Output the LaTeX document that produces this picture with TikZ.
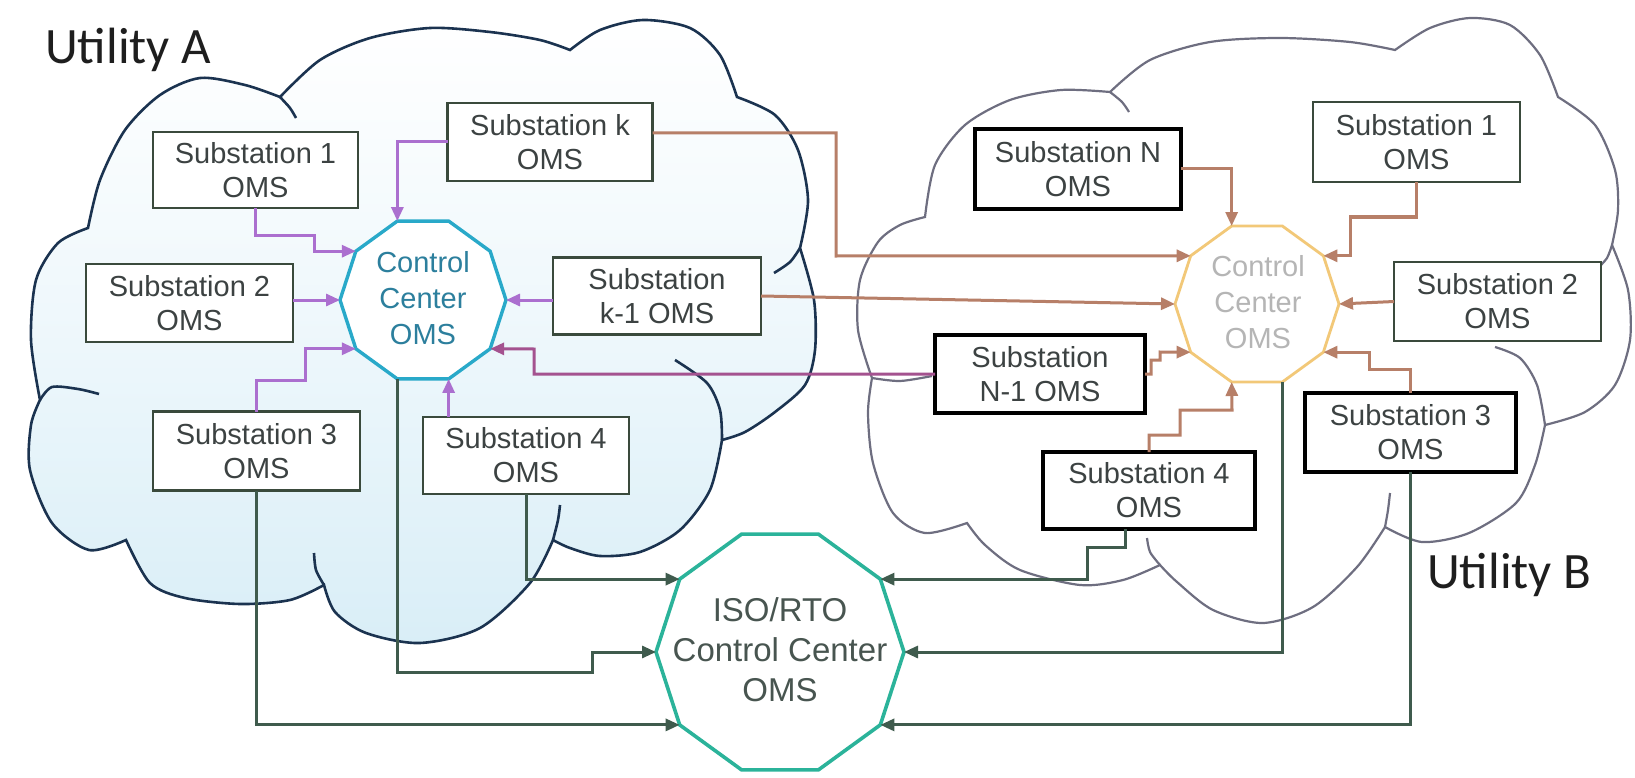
\documentclass[tikz,border=0pt]{standalone}
\usepackage{fontspec}
\setmainfont{Liberation Sans}
\newfontfamily\utilfont{Carlito}
\usetikzlibrary{arrows.meta,shapes.geometric,calc}
\pgfdeclarelayer{bg}
\pgfsetlayers{bg,main}
\definecolor{navyc}{HTML}{1B3350}
\definecolor{grayc}{HTML}{6E6E80}
\definecolor{boxc}{HTML}{3A4A3C}
\definecolor{txtc}{HTML}{3C4242}
\definecolor{purpc}{HTML}{AB6FCF}
\definecolor{magc}{HTML}{A4528F}
\definecolor{brownc}{HTML}{B77F68}
\definecolor{isoc}{HTML}{3F5B4D}
\definecolor{lccc}{HTML}{29A9C9}
\definecolor{lcctxt}{HTML}{2C7F9D}
\definecolor{rccc}{HTML}{F2C878}
\definecolor{rcctxt}{HTML}{B5B5B5}
\definecolor{isoline}{HTML}{2BB39A}
\definecolor{isotxt}{HTML}{485550}
\definecolor{cloudfill}{HTML}{D9EEF7}
\definecolor{utxt}{HTML}{1E1E1E}
\newcommand\bxfont{\fontsize{29pt}{34pt}\selectfont}
\newcommand\ccfont{\fontsize{29pt}{36pt}\selectfont}
\newcommand\isofont{\fontsize{33pt}{40pt}\selectfont}
\begin{document}
\begin{tikzpicture}[x=1pt,y=-1pt,
  stbox/.style={draw=boxc, line width=2.6pt, fill=white, minimum width=206pt, minimum height=78pt,
    inner sep=0pt, outer sep=0pt, align=center, font=\bxfont, text=txtc},
  thickbox/.style={stbox, draw=black, line width=3.8pt},
  ccpoly/.style={regular polygon, regular polygon sides=10, inner sep=0pt, outer sep=0pt, fill=white},
  cctext/.style={align=center, inner sep=0pt},
  conn/.style={line width=3pt, -{Triangle[length=14pt,width=12pt]}},
  pconn/.style={conn, draw=purpc},
  mconn/.style={conn, draw=magc},
  bconn/.style={conn, draw=brownc},
  iconn/.style={conn, draw=isoc},
  utlabel/.style={anchor=base west, inner sep=0pt, text=utxt, font=\utilfont\fontsize{51pt}{60pt}\selectfont}
]
\useasboundingbox (0,0) rectangle (1635,778);

% ---------- clouds ----------
\begin{pgfonlayer}{bg}
\path[draw=navyc, line width=2.6pt, top color=white, bottom color=cloudfill, middle color=cloudfill!45]
  plot[smooth] coordinates {(40,400) (31,340) (36,280) (58,243) (88,228)}
  -- plot[smooth] coordinates {(88,228) (100,180) (125,130) (160,95) (200,78) (245,85) (280,97)}
  -- plot[smooth] coordinates {(280,97) (320,60) (370,38) (430,28) (490,32) (540,40) (570,50)}
  -- plot[smooth] coordinates {(570,50) (600,30) (643,20) (690,28) (720,55) (737,97)}
  -- plot[smooth] coordinates {(737,97) (775,115) (798,150) (808,200) (800,248)}
  -- plot[smooth] coordinates {(800,248) (814,300) (815,350) (805,385) (775,412) (745,432) (722,440)}
  -- plot[smooth] coordinates {(722,440) (710,490) (680,530) (640,552) (600,556) (570,548) (553,540)}
  -- plot[smooth] coordinates {(553,540) (530,583) (480,628) (420,643) (366,633) (335,612) (324,585)}
  -- plot[smooth] coordinates {(324,585) (290,600) (240,604) (185,598) (150,583) (126,540)}
  -- plot[smooth] coordinates {(126,540) (89,550) (52,523) (30,470) (31,425) (40,400)}
  -- cycle;
\draw[navyc, line width=2.6pt] plot[smooth] coordinates {(40,400) (52,387) (78,389) (99,394)};
\draw[navyc, line width=2.6pt] plot[smooth] coordinates {(280,97) (290,108) (296,118)};
\draw[navyc, line width=2.6pt] plot[smooth] coordinates {(800,248) (790,262) (774,273)};
\draw[navyc, line width=2.6pt] plot[smooth] coordinates {(722,440) (720,410) (707,383) (675,360)};
\draw[navyc, line width=2.6pt] plot[smooth] coordinates {(553,540) (558,520) (560,505)};
\draw[navyc, line width=2.6pt] plot[smooth] coordinates {(324,585) (316,570) (314,553)};

\path[draw=grayc, line width=2.2pt, fill=white]
  plot[smooth] coordinates {(872,378) (858,330) (860,280) (878,242) (900,225) (925,217)}
  -- plot[smooth] coordinates {(925,217) (935,165) (965,125) (1010,100) (1061,90) (1110,92)}
  -- plot[smooth] coordinates {(1110,92) (1150,60) (1210,42) (1280,38) (1350,42) (1395,50)}
  -- plot[smooth] coordinates {(1395,50) (1430,28) (1470,18) (1510,25) (1540,55) (1558,97)}
  -- plot[smooth] coordinates {(1558,97) (1595,125) (1615,170) (1618,210) (1612,245)}
  -- plot[smooth] coordinates {(1612,245) (1628,290) (1630,340) (1615,385) (1585,412) (1545,425)}
  -- plot[smooth] coordinates {(1545,425) (1535,465) (1516,503) (1469,533) (1422,542) (1385,527)}
  -- plot[smooth] coordinates {(1385,527) (1357,567) (1313,607) (1263,623) (1213,610) (1177,582) (1160,565)}
  -- plot[smooth] coordinates {(1160,565) (1123,580) (1080,585) (1020,570) (985,545) (967,523)}
  -- plot[smooth] coordinates {(967,523) (925,533) (893,513) (873,463) (868,413) (872,378)}
  -- cycle;
\draw[grayc, line width=2.2pt] plot[smooth] coordinates {(1110,92) (1122,102) (1129,112)};
\draw[grayc, line width=2.2pt] plot[smooth] coordinates {(1612,245) (1607,258) (1598,268)};
\draw[grayc, line width=2.2pt] plot[smooth] coordinates {(1495,347) (1520,358) (1537,385) (1545,425)};
\draw[grayc, line width=2.2pt] plot[smooth] coordinates {(1390,493) (1388,510) (1385,527)};
\draw[grayc, line width=2.2pt] plot[smooth] coordinates {(1160,565) (1150,552) (1147,538)};
\draw[grayc, line width=2.2pt] plot[smooth] coordinates {(872,378) (900,381) (932,376)};
\end{pgfonlayer}

% ---------- labels ----------
\node[utlabel] (utilA) at (45,64) {Utility A};
\node[utlabel] (utilB) at (1427,588) {Utility B};

% ---------- control centres ----------
\node[ccpoly, draw=lccc, line width=3.4pt, minimum size=166pt] (lcc) at (423,300) {};
\node[cctext, font=\ccfont, text=lcctxt] (lcct) at (423,298) {Control\\Center\\OMS};
\node[ccpoly, draw=rccc, line width=2.8pt, minimum size=164pt] (rcc) at (1257,304) {};
\node[cctext, font=\ccfont, text=rcctxt] (rcct) at (1258,302) {Control\\Center\\OMS};
\node[ccpoly, draw=isoline, line width=3.6pt, minimum size=248pt] (iso) at (780,652) {};
\node[cctext, font=\isofont, text=isotxt] (isot) at (780,650) {ISO/RTO\\Control Center\\OMS};

% ---------- substations, utility A ----------
\node[stbox, minimum width=205pt, minimum height=76pt] (s1a) at (255.5,170) {Substation 1\\OMS};
\node[stbox, minimum width=205pt] (ska) at (550,142) {Substation k\\OMS};
\node[stbox, minimum width=207pt] (s2a) at (189.5,303) {Substation 2\\OMS};
\node[stbox, minimum width=208pt, minimum height=77pt] (sk1a) at (657,296) {Substation\\k-1 OMS};
\node[stbox, minimum width=207pt, minimum height=79pt] (s3a) at (256.5,451) {Substation 3\\OMS};
\node[stbox, minimum width=206pt, minimum height=77pt] (s4a) at (526,455.5) {Substation 4\\OMS};

% ---------- substations, utility B ----------
\node[thickbox, minimum width=206pt, minimum height=80pt] (snb) at (1078,169) {Substation N\\OMS};
\node[stbox, minimum width=207pt, minimum height=80pt] (s1b) at (1416.5,142) {Substation 1\\OMS};
\node[stbox, minimum width=207pt, minimum height=79pt] (s2b) at (1497.5,301.5) {Substation 2\\OMS};
\node[thickbox, minimum width=210pt, minimum height=78pt] (sn1b) at (1040,374) {Substation\\N-1 OMS};
\node[thickbox, minimum width=211pt, minimum height=79pt] (s3b) at (1410.5,432.5) {Substation 3\\OMS};
\node[thickbox, minimum width=212pt, minimum height=77pt] (s4b) at (1149,490.5) {Substation 4\\OMS};

% ---------- connectors to left control centre ----------
\draw[pconn] (s1a.south) |- (314,235) |- (lcc.144);
\draw[pconn] (ska.west) -| (lcc.108);
\draw[pconn] (s2a.east |- lcc.180) -- (lcc.180);
\draw[pconn] (sk1a.west |- lcc.0) -- (lcc.0);
\draw[pconn] (s3a.north) |- (305,380) |- (lcc.216);
\draw[pconn] (lcc.288 |- s4a.north) -- (lcc.288);
\draw[mconn] (sn1b.west) -| (534,349) -- (lcc.324);

% ---------- connectors to right control centre ----------
\draw[bconn] ([yshift=9pt]ska.east) -| (836,256) -- (rcc.144);
\draw[bconn] (sk1a.east) -- (rcc.180);
\draw[bconn] (snb.east) -| (rcc.108);
\draw[bconn] (s1b.south) |- (1350,217) |- (rcc.36);
\draw[bconn] (s2b.west) -- (rcc.0);
\draw[bconn] (s3b.north) |- (1369,369) |- (rcc.324);
\draw[bconn] (sn1b.east) -| (1151,360) -| (1160,352) -- (rcc.216);
\draw[bconn] (s4b.north) |- (1180,435) |- (1232,410) -- (rcc.252);

% ---------- connectors to ISO/RTO ----------
\draw[iconn] (s4a.south) |- (iso.144);
\draw[iconn] (lcc.252) |- (592,672) |- (iso.180);
\draw[iconn] (s3a.south) |- (iso.216);
\draw[iconn] ([xshift=-24pt]s4b.south) |- (1087,547) |- (iso.36);
\draw[iconn] (rcc.288) |- (iso.0);
\draw[iconn] (s3b.south) |- (iso.324);
\end{tikzpicture}
\end{document}
